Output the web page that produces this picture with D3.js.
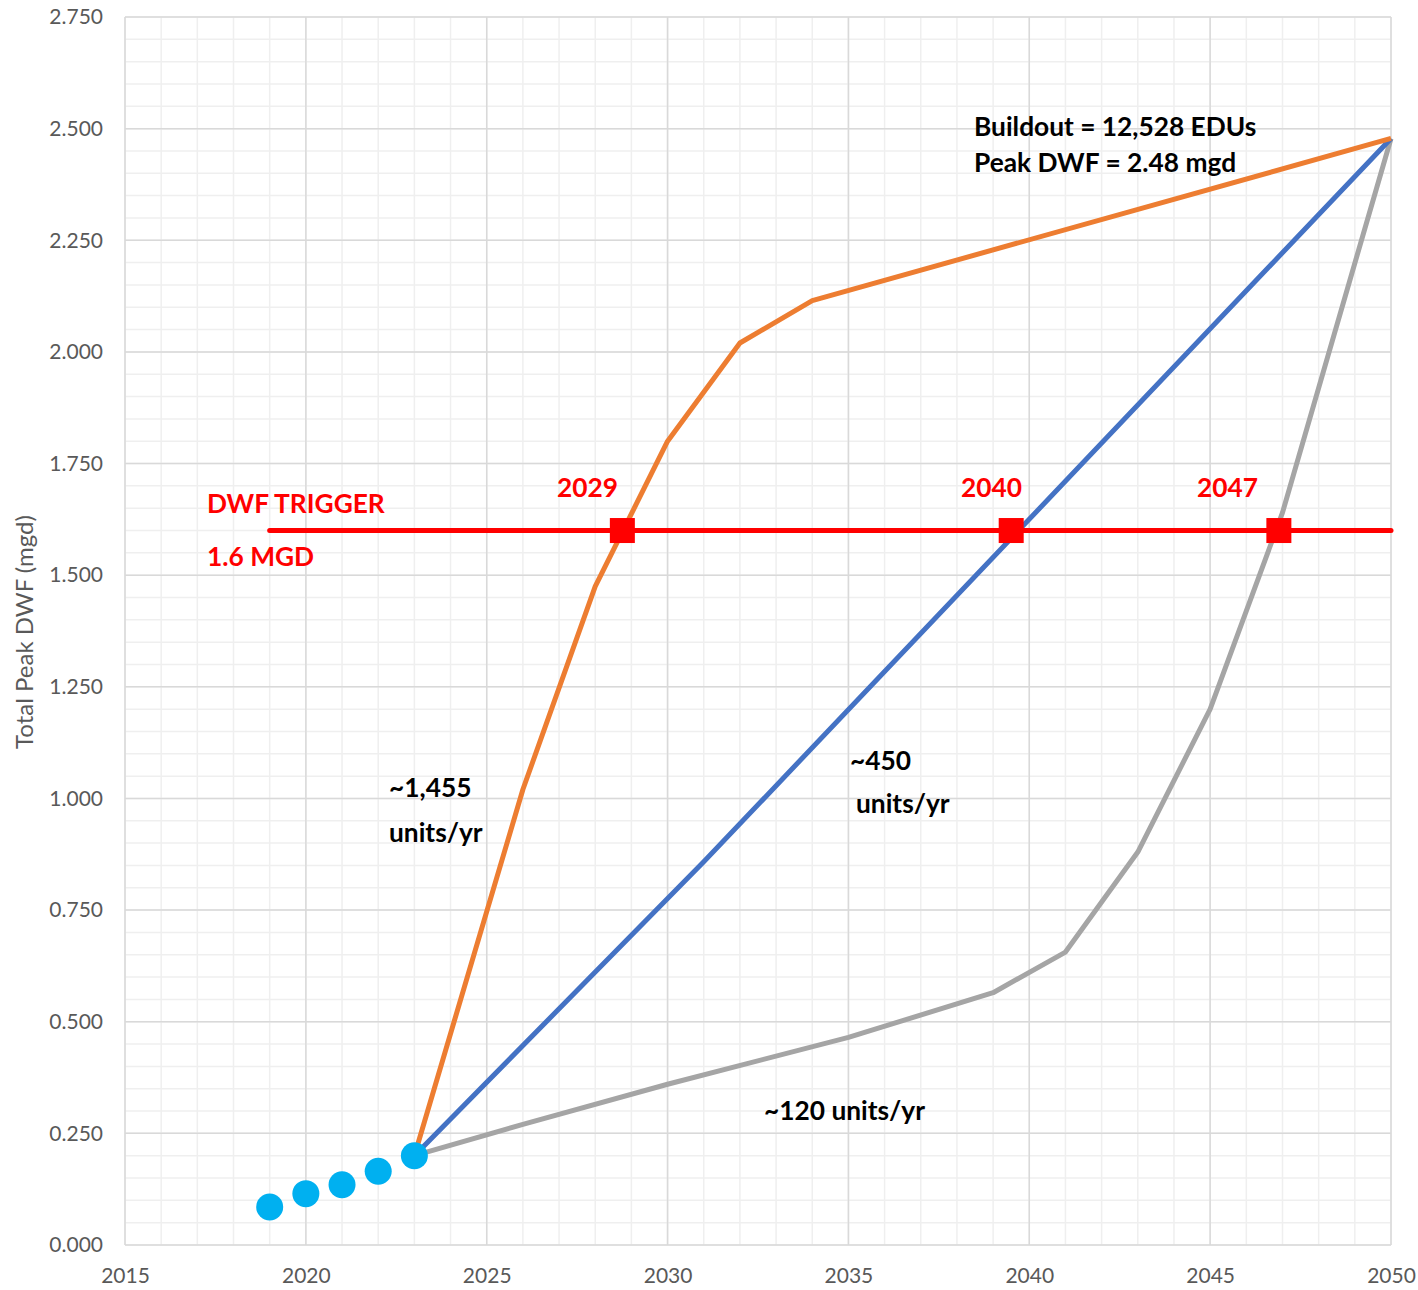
<!DOCTYPE html>
<html>
<head>
<meta charset="utf-8">
<script src="https://cdn.jsdelivr.net/npm/d3@7"></script>
<style>
  html, body { margin: 0; padding: 0; background: #fff; }
  svg { display: block; }
</style>
</head>
<body>
<svg id="chart" width="1418" height="1290"></svg>
<script>
// Historical peak dry-weather flow (mgd)
const histYears = [2019, 2020, 2021, 2022, 2023];
const histFlow  = [0.085, 0.115, 0.135, 0.165, 0.200];

// Fast growth scenario (~1,455 units/yr)
const fastYears = [2023, 2026, 2028, 2030, 2032, 2034, 2050];
const fastFlow  = [0.200, 1.020, 1.475, 1.800, 2.020, 2.115, 2.478];

// Medium growth scenario (~450 units/yr)
const midYears = [2023, 2031, 2050];
const midFlow  = [0.200, 0.858, 2.478];

// Slow growth scenario (~120 units/yr)
const slowYears = [2023, 2026, 2030, 2035, 2039, 2041, 2043, 2045, 2047, 2050];
const slowFlow  = [0.200, 0.270, 0.360, 0.465, 0.565, 0.656, 0.880, 1.200, 1.640, 2.478];

// Trigger level and the years each scenario reaches it
const triggerFlow = 1.6;
const triggerStart = 2019;
const triggerEnd = 2050;
const triggerYears = [2028.75, 2039.5, 2046.9];
const triggerLabels = ["2029", "2040", "2047"];

// Axis ticks
const xTicks = [2015, 2020, 2025, 2030, 2035, 2040, 2045, 2050];
const yTicks = [0, 0.25, 0.5, 0.75, 1.0, 1.25, 1.5, 1.75, 2.0, 2.25, 2.5, 2.75];

const svg = d3.select("#chart");
const x = d3.scaleLinear().domain([2015, 2050]).range([125, 1391]);
const y = d3.scaleLinear().domain([0, 2.75]).range([1245, 17]);

const grid = svg.append("g");
// minor grid
grid.selectAll("line.vminor").data(d3.range(2015, 2051, 1))
  .join("line")
  .attr("x1", d => x(d)).attr("x2", d => x(d))
  .attr("y1", y(0)).attr("y2", y(2.75))
  .attr("stroke", "#efefef").attr("stroke-width", 1.5);
grid.selectAll("line.hminor").data(d3.range(0, 56).map(i => i * 0.05))
  .join("line")
  .attr("x1", x(2015)).attr("x2", x(2050))
  .attr("y1", d => y(d)).attr("y2", d => y(d))
  .attr("stroke", "#efefef").attr("stroke-width", 1.5);
// major grid
grid.selectAll("line.vmajor").data(xTicks)
  .join("line")
  .attr("x1", d => x(d)).attr("x2", d => x(d))
  .attr("y1", y(0)).attr("y2", y(2.75))
  .attr("stroke", "#d9d9d9").attr("stroke-width", 1.5);
grid.selectAll("line.hmajor").data(yTicks)
  .join("line")
  .attr("x1", x(2015)).attr("x2", x(2050))
  .attr("y1", d => y(d)).attr("y2", d => y(d))
  .attr("stroke", "#d9d9d9").attr("stroke-width", 1.5);

// Axes (labels only; grid draws the lines)
const yAxis = d3.axisLeft(y).tickValues(yTicks).tickFormat(d3.format(".3f")).tickSize(0).tickPadding(22);
const gy = svg.append("g").attr("transform", `translate(${x(2015)},0)`).call(yAxis);
const xAxis = d3.axisBottom(x).tickValues(xTicks).tickFormat(d3.format("d")).tickSize(0).tickPadding(23);
const gx = svg.append("g").attr("transform", `translate(0,${y(0)})`).call(xAxis);
[gx, gy].forEach(g => {
  g.select(".domain").remove();
  g.selectAll("text").attr("font-family", "Lato, 'Open Sans', sans-serif")
    .attr("font-size", 21).attr("fill", "#595959");
});

svg.append("text")
  .attr("transform", `translate(33,632) rotate(-90)`)
  .attr("text-anchor", "middle")
  .attr("font-family", "Lato, 'Open Sans', sans-serif")
  .attr("font-size", 24).attr("fill", "#595959")
  .text("Total Peak DWF (mgd)");

const line = d3.line().x(d => x(d[0])).y(d => y(d[1]));
const series = [
  { years: slowYears, flow: slowFlow, color: "#a5a5a5" },
  { years: midYears, flow: midFlow, color: "#4472c4" },
  { years: fastYears, flow: fastFlow, color: "#ed7d31" }
];
series.forEach(s => {
  svg.append("path")
    .datum(s.years.map((yr, i) => [yr, s.flow[i]]))
    .attr("d", line)
    .attr("fill", "none")
    .attr("stroke", s.color)
    .attr("stroke-width", 5)
    .attr("stroke-linejoin", "round");
});

// Historical points
svg.selectAll("circle.hist").data(histYears.map((yr, i) => [yr, histFlow[i]]))
  .join("circle")
  .attr("cx", d => x(d[0])).attr("cy", d => y(d[1]))
  .attr("r", 13.5).attr("fill", "#00b0f0");

// Trigger line and crossing markers
svg.append("path")
  .datum([[triggerStart, triggerFlow], [triggerEnd, triggerFlow]])
  .attr("d", line)
  .attr("stroke", "#ff0000").attr("stroke-width", 5)
  .attr("stroke-linecap", "round").attr("fill", "none");
const sq = 25;
svg.selectAll("rect.trig").data(triggerYears)
  .join("rect")
  .attr("x", d => x(d) - sq / 2).attr("y", y(triggerFlow) - sq / 2)
  .attr("width", sq).attr("height", sq).attr("fill", "#ff0000");

const bold = (t, px, py, color) => svg.append("text")
  .attr("x", px).attr("y", py)
  .attr("font-family", "Lato, 'Open Sans', sans-serif")
  .attr("font-weight", "bold").attr("font-size", 26.3)
  .attr("fill", color).text(t);

const labelX = [557, 961, 1197];
triggerLabels.forEach((t, i) => bold(t, labelX[i], 497, "#ff0000"));
bold("DWF TRIGGER", 207, 513, "#ff0000");
bold("1.6 MGD", 207, 566, "#ff0000");

bold("Buildout = 12,528 EDUs", 974, 136, "#000");
bold("Peak DWF = 2.48 mgd", 974, 172, "#000");
bold("~1,455", 389, 797, "#000");
bold("units/yr", 389, 842, "#000");
bold("~450", 850, 770, "#000");
bold("units/yr", 856, 813, "#000");
bold("~120 units/yr", 764, 1120, "#000");
</script>
</body>
</html>
